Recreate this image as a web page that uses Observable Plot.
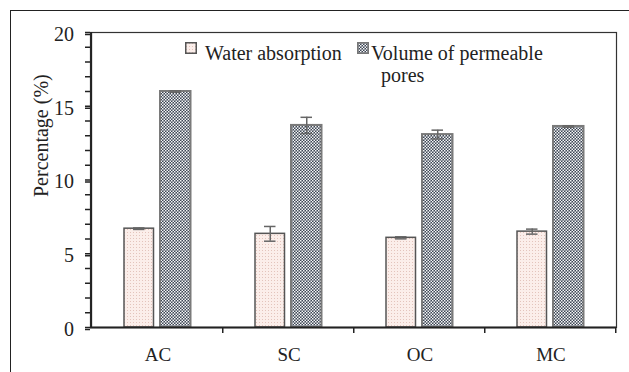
<!DOCTYPE html>
<html>
<head>
<meta charset="utf-8">
<script src="https://cdn.jsdelivr.net/npm/d3@7"></script>
<script src="https://cdn.jsdelivr.net/npm/@observablehq/plot@0.6"></script>
<style>
  html, body { margin: 0; padding: 0; background: #fff; }
  #wrap { position: relative; width: 629px; height: 372px; overflow: hidden; font-family: "Liberation Serif", "Times New Roman", serif; color: #222; }
  #outer { position: absolute; left: 10px; top: 10px; right: -10px; bottom: -10px; border-top: 1.5px solid #222; border-left: 1.5px solid #222; pointer-events: none; }
  .leg { position: absolute; font-size: 20px; line-height: 1; white-space: nowrap; }
  .sw { position: absolute; }
</style>
</head>
<body>
<div id="wrap">
  <div id="chart"></div>
  <div id="outer"></div>
</div>
<script>
// ---- data ----
const categories = ["AC", "SC", "OC", "MC"];
const waterAbsorption = [6.7, 6.35, 6.08, 6.5];
const waterAbsorptionErr = [0.05, 0.5, 0.07, 0.17];
const permeablePores = [16.0, 13.7, 13.08, 13.63];
const permeablePoresErr = [0.05, 0.55, 0.3, 0.05];
const seriesNames = ["Water absorption", "Volume of permeable pores"];
const yMajorTicks = [0, 5, 10, 15, 20];
const yMinorTicks = d3.range(0, 21);
const yLabel = "Percentage (%)";

const rows = categories.map((c, i) => ({
  category: c,
  water: waterAbsorption[i], waterErr: waterAbsorptionErr[i],
  vpp: permeablePores[i], vppErr: permeablePoresErr[i]
}));

const W = 629, H = 372;
const mL = 90, mR = 13, mT = 32, mB = 45;
const band = (W - mL - mR) / categories.length; // 131.5
// positions within each band (style)
const wa = {left: 33, right: 63};
const vp = {left: 69, right: 100};
const waC = (wa.left + wa.right) / 2, vpC = (vp.left + vp.right) / 2;
const cap = 6;
const font = '"Liberation Serif", "Times New Roman", serif';

const chart = Plot.plot({
  width: W, height: H,
  marginLeft: mL, marginRight: mR, marginTop: mT, marginBottom: mB,
  style: {fontFamily: font, fontSize: "20px", color: "#222", background: "transparent"},
  x: {type: "band", domain: categories, padding: 0, axis: null},
  y: {domain: [0, 20], axis: null},
  marks: [
    Plot.barY(rows, {x: "category", y: "water", fill: "url(#waPat)", stroke: "#555", strokeWidth: 1.5,
      insetLeft: wa.left, insetRight: band - wa.right}),
    Plot.barY(rows, {x: "category", y: "vpp", fill: "url(#vpPat)", stroke: "#7a7a7a", strokeWidth: 2,
      insetLeft: vp.left, insetRight: band - vp.right}),
    // error bars
    Plot.ruleX(rows, {x: "category", y1: d => d.water - d.waterErr, y2: d => d.water + d.waterErr,
      dx: waC - band / 2, stroke: "#666", strokeWidth: 1.5}),
    Plot.tickY(rows, {x: "category", y: d => d.water + d.waterErr, stroke: "#666", strokeWidth: 1.5,
      insetLeft: waC - cap, insetRight: band - waC - cap}),
    Plot.tickY(rows, {x: "category", y: d => d.water - d.waterErr, stroke: "#666", strokeWidth: 1.5,
      insetLeft: waC - cap, insetRight: band - waC - cap}),
    Plot.ruleX(rows, {x: "category", y1: d => d.vpp - d.vppErr, y2: d => d.vpp + d.vppErr,
      dx: vpC - band / 2, stroke: "#666", strokeWidth: 1.5}),
    Plot.tickY(rows, {x: "category", y: d => d.vpp + d.vppErr, stroke: "#666", strokeWidth: 1.5,
      insetLeft: vpC - cap, insetRight: band - vpC - cap}),
    Plot.tickY(rows, {x: "category", y: d => d.vpp - d.vppErr, stroke: "#666", strokeWidth: 1.5,
      insetLeft: vpC - cap, insetRight: band - vpC - cap}),
    // frame and axes
    Plot.frame({stroke: "#333", strokeWidth: 1.2}),
    Plot.ruleY([0], {stroke: "#222", strokeWidth: 1.8}),
    Plot.ruleX([categories[0]], {x: d => d, dx: -band / 2, stroke: "#222", strokeWidth: 1.8}),
    Plot.ruleX(categories, {x: d => d, dx: band / 2, y1: 0, y2: 0, insetBottom: -6, stroke: "#222", strokeWidth: 1.5}),
    Plot.axisY({ticks: yMinorTicks, tickSize: 5, tickFormat: () => "", stroke: "#222", strokeWidth: 1.5, label: null}),
    Plot.axisY({ticks: yMajorTicks, tickSize: 5, tickPadding: 11.5, dy: 2, stroke: "#222", strokeWidth: 1.5, fill: "#222", label: null, fontSize: 20}),
    Plot.axisX({tickSize: 0, tickPadding: 19.5, dx: 1, label: null, fill: "#222", fontSize: 19}),
    Plot.text([yLabel], {frameAnchor: "left", text: d => d, rotate: -90, dx: -48.5, dy: 17, fontSize: 20, fill: "#222"})
  ]
});

// patterns
const svg = d3.select(chart);
const defs = svg.insert("defs", ":first-child");
const wp = defs.append("pattern").attr("id", "waPat").attr("patternUnits", "userSpaceOnUse").attr("width", 3).attr("height", 3);
wp.append("rect").attr("width", 3).attr("height", 3).attr("fill", "#fbeeea");
wp.append("rect").attr("x", 1).attr("y", 1).attr("width", 1).attr("height", 1).attr("fill", "#e3c4bc");
const vpat = defs.append("pattern").attr("id", "vpPat").attr("patternUnits", "userSpaceOnUse").attr("width", 3).attr("height", 3);
vpat.append("rect").attr("width", 3).attr("height", 3).attr("fill", "#3c4655");
vpat.append("rect").attr("width", 1.5).attr("height", 1.5).attr("fill", "#f6f6f6");
vpat.append("rect").attr("x", 1.5).attr("y", 1.5).attr("width", 1.5).attr("height", 1.5).attr("fill", "#f6f6f6");

document.getElementById("chart").appendChild(chart);

// legend (HTML)
const wrap = document.getElementById("wrap");
function swatch(x, y, pat, stroke) {
  const s = document.createElementNS("http://www.w3.org/2000/svg", "svg");
  s.setAttribute("width", 12); s.setAttribute("height", 12);
  s.setAttribute("class", "sw");
  s.style.left = x + "px"; s.style.top = y + "px";
  const r = document.createElementNS("http://www.w3.org/2000/svg", "rect");
  r.setAttribute("x", 0.75); r.setAttribute("y", 0.75); r.setAttribute("width", 10.5); r.setAttribute("height", 10.5);
  r.setAttribute("fill", `url(#${pat})`); r.setAttribute("stroke", stroke); r.setAttribute("stroke-width", 1.5);
  s.appendChild(r);
  wrap.appendChild(s);
}
function label(x, y, t) {
  const d = document.createElement("div");
  d.className = "leg"; d.style.left = x + "px"; d.style.top = y + "px"; d.textContent = t;
  wrap.appendChild(d);
}
swatch(185, 42, "waPat", "#555");
label(205, 43.25, seriesNames[0]);
swatch(357, 42, "vpPat", "#777");
const vpWords = seriesNames[1].split(" ");
label(371, 43.25, vpWords.slice(0, 3).join(" "));
label(381, 65.25, vpWords.slice(3).join(" "));
</script>
</body>
</html>
